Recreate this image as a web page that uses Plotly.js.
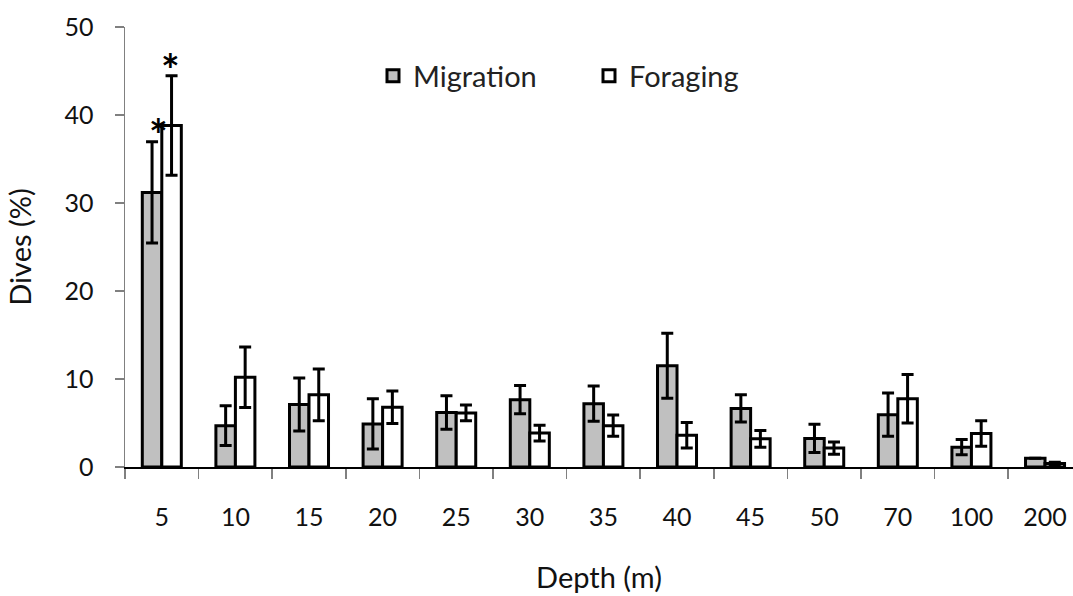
<!DOCTYPE html>
<html>
<head>
<meta charset="utf-8">
<script src="https://cdn.plot.ly/plotly-3.0.1.min.js"></script>
<style>html,body{margin:0;padding:0;background:#fff;}#chart{width:1073px;height:596px;}</style>
</head>
<body>
<div id="chart"></div>
<script>
const depths = ["5","10","15","20","25","30","35","40","45","50","70","100","200"];
const migration = [31.2, 4.7, 7.1, 4.9, 6.2, 7.65, 7.2, 11.5, 6.65, 3.25, 5.95, 2.25, 1.0];
const migrationErr = [5.75, 2.25, 3.0, 2.85, 1.9, 1.6, 2.0, 3.7, 1.55, 1.6, 2.45, 0.87, 0];
const foraging = [38.8, 10.2, 8.2, 6.8, 6.15, 3.85, 4.7, 3.6, 3.2, 2.15, 7.75, 3.8, 0.4];
const foragingErr = [5.65, 3.45, 2.95, 1.85, 0.9, 0.9, 1.2, 1.45, 0.95, 0.7, 2.75, 1.45, 0.15];
const yTicks = [0, 10, 20, 30, 40, 50];

const FONT = "Lato, 'Open Sans', sans-serif";

const traces = [
  {
    type: "bar", name: "Migration", x: depths, y: migration,
    marker: {color: "#c0c0c0", line: {color: "#000", width: 3}},
    error_y: {type: "data", array: migrationErr, visible: true, color: "#000", thickness: 3, width: 6}
  },
  {
    type: "bar", name: "Foraging", x: depths, y: foraging,
    marker: {color: "#ffffff", line: {color: "#000", width: 3}},
    error_y: {type: "data", array: foragingErr, visible: true, color: "#000", thickness: 3, width: 6}
  }
];

const starIdx = depths.indexOf("5");

const layout = {
  width: 1073, height: 596,
  paper_bgcolor: "#fff", plot_bgcolor: "#fff",
  margin: {l: 125, r: 0, t: 27, b: 129, pad: 0},
  barmode: "group", bargap: 0.47, bargroupgap: 0,
  font: {family: FONT, size: 25, color: "#111"},
  showlegend: true,
  legend: {
    orientation: "h", x: 0.2616, y: 0.889, xanchor: "left", yanchor: "middle",
    font: {family: FONT, size: 29, color: "#222"}, bgcolor: "rgba(0,0,0,0)",
    entrywidth: 171, entrywidthmode: "pixels",
    itemclick: false, tracegroupgap: 0
  },
  xaxis: {
    type: "category", range: [-0.5, 12.38],
    showline: true, linecolor: "#000", linewidth: 1.5,
    ticks: "outside", tickson: "boundaries", ticklen: 10, tickcolor: "#808080", tickwidth: 1.5,
    ticklabelstandoff: 27,
    showgrid: false, zeroline: false,
    tickfont: {family: FONT, size: 25, color: "#111"},
    title: {text: "Depth (m)", font: {family: FONT, size: 29, color: "#111"}, standoff: 38}
  },
  yaxis: {
    range: [0, 50], tickvals: yTicks, ticktext: yTicks.map(String),
    showline: true, linecolor: "#808080", linewidth: 1.5,
    ticks: "outside", ticklen: 9, tickcolor: "#808080", tickwidth: 1.5,
    ticklabelstandoff: 16,
    showgrid: false, zeroline: false,
    tickfont: {family: FONT, size: 25, color: "#111"},
    title: {text: "Dives (%)", font: {family: FONT, size: 29, color: "#111"}, standoff: 24}
  },
  annotations: [
    {x: starIdx, y: migration[starIdx] + migrationErr[starIdx], xref: "x", yref: "y", text: "<b>*</b>", showarrow: false,
     xshift: -3, yshift: -20, yanchor: "bottom", font: {family: FONT, size: 44, color: "#000"}},
    {x: starIdx, y: foraging[starIdx] + foragingErr[starIdx], xref: "x", yref: "y", text: "<b>*</b>", showarrow: false,
     xshift: 9, yshift: -21, yanchor: "bottom", font: {family: FONT, size: 44, color: "#000"}}
  ]
};

Plotly.newPlot("chart", traces, layout, {displayModeBar: false, staticPlot: true});
</script>
</body>
</html>
